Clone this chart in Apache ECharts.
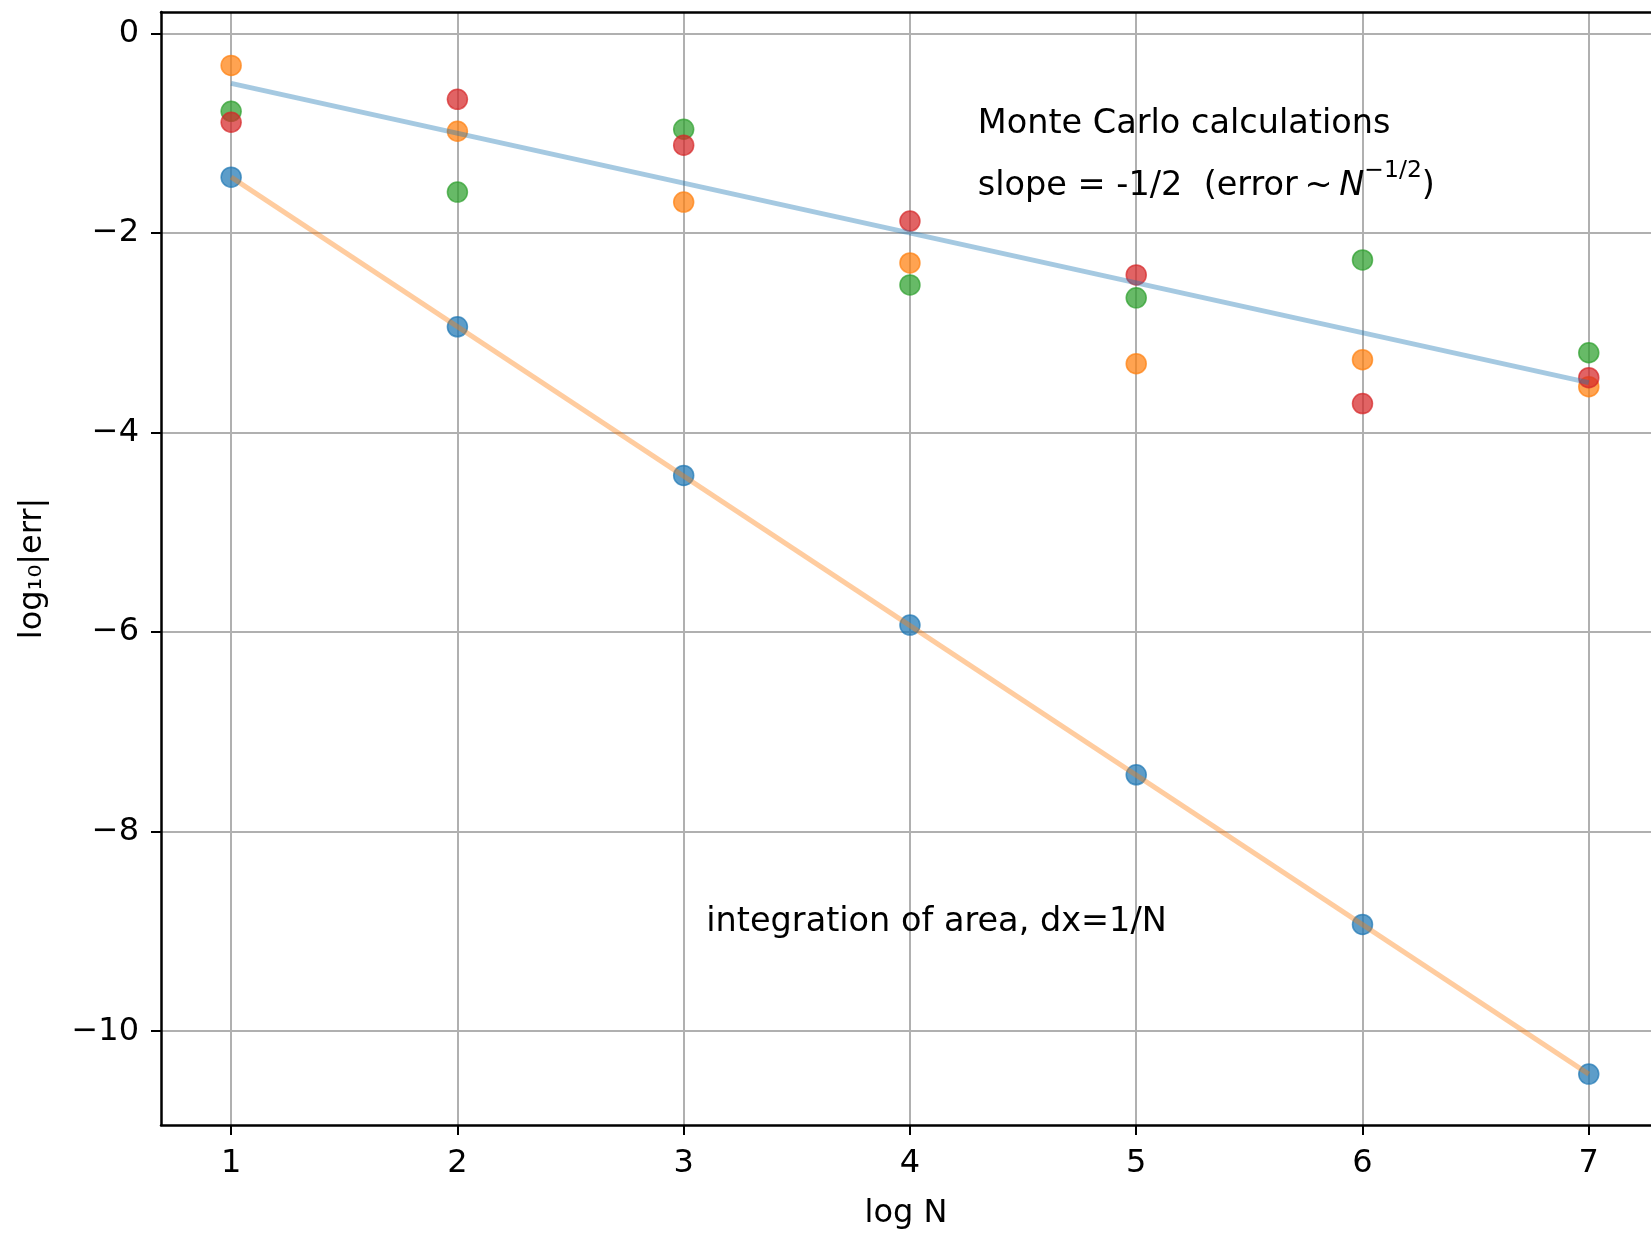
<!DOCTYPE html>
<html><head><meta charset="utf-8">
<script src="https://cdn.jsdelivr.net/npm/echarts@6/dist/echarts.min.js"></script>
<style>html,body{margin:0;padding:0;background:#fff;overflow:hidden}#c{width:1651px;height:1235px}</style>
</head><body><div id="c"></div>
<script>
// ---- data ----
const logN = [1, 2, 3, 4, 5, 6, 7];
const integErr = [-1.44, -2.94, -4.43, -5.93, -7.43, -8.93, -10.43];   // area integration (blue dots)
const mcRunA = [-0.32, -0.98, -1.69, -2.30, -3.31, -3.27, -3.54];      // Monte Carlo run (orange)
const mcRunB = [-0.78, -1.59, -0.96, -2.52, -2.65, -2.27, -3.20];      // Monte Carlo run (green)
const mcRunC = [-0.89, -0.66, -1.12, -1.88, -2.42, -3.71, -3.45];      // Monte Carlo run (red)
const slopeRefX = [1, 7];
const slopeRefY = [-0.5, -3.5];
const fitX = [1, 7];
const fitY = [-1.44, -10.43];
const xTicks = [1, 2, 3, 4, 5, 6, 7];
const yTicks = [-10, -8, -6, -4, -2, 0];
const xRange = [0.69, 7.275];
const yRange = [-10.94, 0.215];
const annotations = [
  { x: 4.3, y: -1.0, text: 'Monte Carlo calculations', rich: false },
  { x: 4.3, y: -1.6, text: '{a|slope = -1/2  (error\u2009∼\u2009}{i|N}{s|−1/2}{a|)}', rich: true },
  { x: 3.1, y: -9.0, text: 'integration of area, dx=1/N', rich: false }
];

// ---- chart ----
const FONT = 'DejaVu Sans';
const C = { blue: '#1f77b4', orange: '#ff7f0e', green: '#2ca02c', red: '#d62728' };
const fmt = v => (v < 0 ? '\u2212' + Math.abs(v) : String(v));
const pts = ys => logN.map((x, i) => [x, ys[i]]);
const scatter = (ys, col) => ({
  type: 'scatter', data: pts(ys), symbolSize: 20, z: 2,
  itemStyle: { color: col, opacity: 0.72, borderColor: col, borderWidth: 1.5 }
});
const line = (xs, ys, col) => ({
  type: 'line', data: xs.map((x, i) => [x, ys[i]]), symbol: 'none', z: 3,
  lineStyle: { color: col, width: 5, opacity: 0.4 }
});

const chart = echarts.init(document.getElementById('c'), null, { renderer: 'canvas' });
const option = {
  animation: false,
  backgroundColor: '#fff',
  grid: { left: 161, top: 12, right: 0, height: 1119, containLabel: false },
  xAxis: [{
    type: 'value', min: xRange[0], max: xRange[1],
    name: 'log N', nameLocation: 'middle', nameGap: 73,
    nameTextStyle: { fontFamily: FONT, fontSize: 32, color: '#000' },
    axisLine: { show: true, onZero: false, lineStyle: { color: '#000', width: 2.5 } },
    axisTick: { show: true, length: 10, customValues: xTicks, lineStyle: { color: '#000', width: 2 } },
    axisLabel: { customValues: xTicks, fontFamily: FONT, fontSize: 32, color: '#000', margin: 23, formatter: fmt },
    splitLine: { show: true, lineStyle: { color: '#b0b0b0', width: 2 } }
  }, {
    type: 'value', position: 'top', min: xRange[0], max: xRange[1],
    axisLine: { show: true, onZero: false, lineStyle: { color: '#000', width: 2.5 } },
    axisTick: { show: false }, axisLabel: { show: false }, splitLine: { show: false }
  }],
  yAxis: [{
    type: 'value', min: yRange[0], max: yRange[1],
    name: 'log\u2081\u2080|err|', nameLocation: 'middle', nameGap: 112, nameRotate: 90,
    nameTextStyle: { fontFamily: FONT, fontSize: 32, color: '#000' },
    axisLine: { show: true, onZero: false, lineStyle: { color: '#000', width: 2.5 } },
    axisTick: { show: true, length: 10, customValues: yTicks, lineStyle: { color: '#000', width: 2 } },
    axisLabel: { customValues: yTicks, fontFamily: FONT, fontSize: 32, color: '#000', margin: 22, formatter: fmt },
    splitLine: { show: true, lineStyle: { color: '#b0b0b0', width: 2 } }
  }],
  series: [
    scatter(integErr, C.blue),
    scatter(mcRunA, C.orange),
    scatter(mcRunB, C.green),
    scatter(mcRunC, C.red),
    line(slopeRefX, slopeRefY, C.blue),
    line(fitX, fitY, C.orange)
  ]
};
chart.setOption(option);

const baseRich = {
  a: { fontFamily: FONT, fontSize: 33.5, lineHeight: 40, verticalAlign: 'bottom', fill: '#000' },
  i: { fontFamily: FONT, fontSize: 33.5, lineHeight: 40, fontStyle: 'italic', verticalAlign: 'bottom', fill: '#000' },
  s: { fontFamily: FONT, fontSize: 23.5, lineHeight: 26, verticalAlign: 'bottom', padding: [0, 0, 20, 0], fill: '#000' }
};
const graphics = annotations.map(a => {
  const p = chart.convertToPixel({ gridIndex: 0 }, [a.x, a.y]);
  const style = a.rich
    ? { text: a.text, rich: baseRich, x: p[0], y: p[1] + 10, align: 'left', verticalAlign: 'bottom', fill: '#000',
        fontFamily: FONT, fontSize: 33.5, lineHeight: 40 }
    : { text: a.text, x: p[0], y: p[1] + 11, align: 'left', verticalAlign: 'bottom', fill: '#000',
        fontFamily: FONT, fontSize: 33.5, lineHeight: 40 };
  return { type: 'text', z: 10, style: style };
});
chart.setOption({ graphic: graphics });
</script>
</body></html>
